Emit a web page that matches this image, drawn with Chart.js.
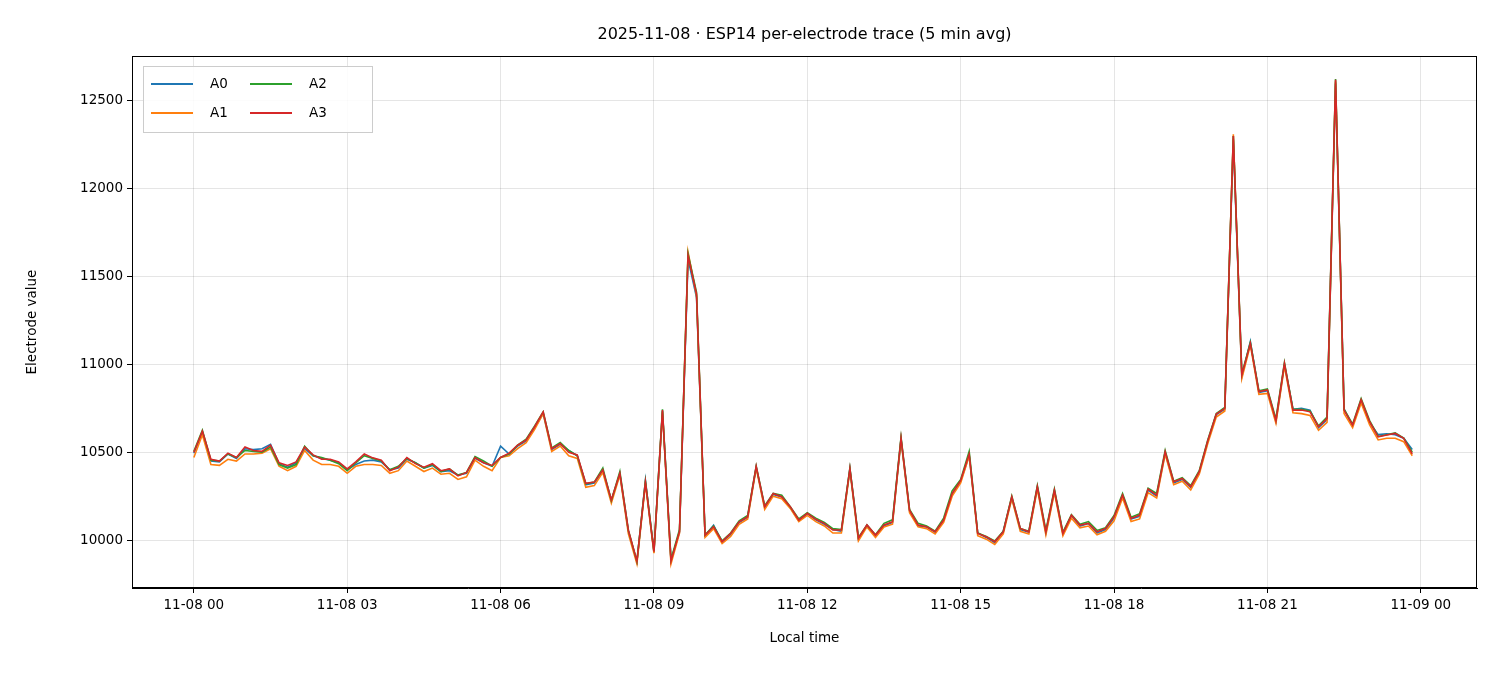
<!DOCTYPE html>
<html>
<head>
<meta charset="utf-8">
<script src="https://cdn.jsdelivr.net/npm/chart.js@4"></script>
<style>
  body { margin: 0; background: #fff; }
</style>
</head>
<body>
<canvas id="trace" width="1500" height="675"></canvas>
<script>
  // 10-minute readings, hours since 2025-11-08 00:00
  const hours = [];
  for (let i = 0; i < 144; i++) hours.push(i / 6);

  const tickHours = [0, 3, 6, 9, 12, 15, 18, 21, 24];
  const tickLabels = ['11-08 00', '11-08 03', '11-08 06', '11-08 09', '11-08 12', '11-08 15', '11-08 18', '11-08 21', '11-09 00'];
  const yTicks = [10000, 10500, 11000, 11500, 12000, 12500];

  const a0 = [10495,10615,10450,10445,10490,10465,10520,10515,10520,10545,10435,10415,10440,10520,10480,10465,10455,10440,10400,10430,10450,10455,10445,10400,10410,10460,10440,10410,10425,10390,10395,10370,10380,10465,10440,10420,
    10535,10490,10535,10565,10640,10720,10515,10545,10510,10480,10315,10325,10395,10225,10375,10050,9875,10340,9930,10735,9885,10045,11600,11380,
    10025,10085,9990,10030,10100,10130,10415,10185,10260,10245,10185,10110,10150,10115,10090,10060,10050,10405,10005,10085,10025,10080,10100,10575,10165,10080,10075,10045,10110,10260,
    10335,10480,10040,10015,9985,10050,10240,10060,10045,10300,10040,10280,10035,10140,10080,10095,10040,10060,10125,10250,10120,10135,10285,10250,10495,10325,10345,10300,10385,10560,
    10715,10745,12280,10930,11130,10840,10850,10675,11000,10745,10750,10740,10640,10685,12600,10745,10650,10790,10670,10600,10605,10600,10580,10515];
  const a1 = [10470,10600,10430,10425,10460,10450,10490,10490,10495,10520,10420,10395,10420,10510,10455,10430,10430,10420,10380,10420,10430,10430,10425,10380,10395,10450,10420,10390,10410,10375,10380,10345,10360,10455,10420,10395,
    10470,10480,10520,10555,10630,10720,10505,10535,10480,10465,10300,10310,10385,10210,10370,10035,9865,10320,9925,10730,9865,10040,11640,11390,
    10015,10065,9980,10020,10090,10120,10410,10175,10250,10235,10180,10105,10140,10105,10080,10040,10040,10395,9995,10075,10015,10075,10090,10570,10155,10075,10065,10035,10100,10250,
    10325,10480,10025,10005,9975,10035,10235,10050,10035,10290,10030,10270,10025,10125,10070,10080,10030,10050,10110,10240,10105,10120,10270,10240,10490,10315,10335,10285,10375,10550,
    10700,10735,12310,10920,11110,10830,10835,10665,10990,10725,10720,10710,10625,10670,12610,10720,10640,10780,10655,10570,10580,10580,10560,10480];
  const a2 = [10505,10625,10455,10450,10490,10470,10510,10505,10500,10530,10430,10410,10430,10535,10480,10470,10455,10435,10395,10440,10480,10465,10450,10400,10420,10465,10440,10410,10430,10390,10405,10370,10385,10475,10450,10420,
    10470,10490,10540,10575,10650,10730,10525,10555,10510,10480,10320,10330,10410,10225,10390,10055,9880,10335,9940,10745,9890,10060,11630,11410,
    10030,10080,9995,10040,10110,10140,10420,10195,10265,10255,10190,10120,10155,10125,10100,10065,10060,10410,10015,10085,10030,10095,10115,10585,10175,10095,10080,10050,10125,10280,
    10345,10505,10040,10020,9995,10050,10250,10065,10050,10310,10055,10290,10045,10145,10090,10105,10055,10070,10140,10265,10130,10150,10295,10265,10510,10335,10355,10310,10395,10570,
    10720,10755,12300,10945,11125,10850,10860,10690,11010,10745,10745,10735,10650,10700,12625,10745,10660,10805,10680,10590,10600,10610,10580,10500];
  const a3 = [10500,10620,10460,10450,10495,10470,10530,10510,10505,10540,10440,10425,10445,10530,10485,10460,10460,10445,10405,10445,10490,10468,10455,10395,10415,10470,10435,10415,10435,10395,10405,10365,10385,10470,10440,10425,
    10470,10495,10540,10570,10645,10730,10520,10550,10500,10485,10323,10330,10400,10228,10380,10056,9880,10330,9934,10740,9880,10050,11620,11400,
    10028,10076,9991,10038,10104,10133,10420,10190,10265,10247,10190,10114,10152,10118,10095,10057,10057,10408,10010,10086,10028,10086,10104,10580,10170,10086,10076,10048,10114,10266,
    10340,10490,10038,10019,9991,10047,10247,10066,10047,10304,10047,10285,10038,10142,10085,10095,10047,10066,10133,10256,10123,10142,10290,10256,10503,10332,10351,10304,10389,10565,
    10717,10750,12300,10940,11120,10845,10855,10680,11006,10740,10740,10730,10645,10693,12620,10740,10655,10799,10674,10588,10598,10607,10579,10490];

  const names = ['A0', 'A1', 'A2', 'A3'];
  const colors = ['#1f77b4', '#ff7f0e', '#2ca02c', '#d62728'];
  const series = [a0, a1, a2, a3];

  const FONT = '"DejaVu Sans", sans-serif';

  // title, axis titles, frame and the 2-column legend
  const decor = {
    id: 'decor',
    afterDraw(chart) {
      const c = chart.ctx, a = chart.chartArea;
      c.save();
      c.strokeStyle = '#000';
      c.lineWidth = 1;
      c.strokeRect(a.left + 0.5, a.top + 0.5, a.right - a.left - 1, a.bottom - a.top - 1);
      c.fillStyle = '#000';
      c.textAlign = 'center';
      c.textBaseline = 'middle';
      c.font = '16px ' + FONT;
      c.fillText('2025-11-08 · ESP14 per-electrode trace (5 min avg)', (a.left + a.right) / 2, 35);
      c.font = '13.5px ' + FONT;
      c.fillText('Local time', (a.left + a.right) / 2, 638);
      c.translate(32, (a.top + a.bottom) / 2);
      c.rotate(-Math.PI / 2);
      c.fillText('Electrode value', 0, 0);
      c.restore();

      c.save();
      c.fillStyle = 'rgba(255,255,255,0.85)';
      c.strokeStyle = '#ccc';
      c.lineWidth = 1;
      c.fillRect(143.5, 66.5, 229, 66);
      c.strokeRect(143.5, 66.5, 229, 66);
      c.font = '13.5px ' + FONT;
      c.textBaseline = 'middle';
      c.textAlign = 'left';
      chart.data.datasets.forEach((ds, i) => {
        const col = Math.floor(i / 2), row = i % 2;
        const x = 151 + col * 99, y = 84 + row * 29;
        c.strokeStyle = ds.borderColor;
        c.lineWidth = 2;
        c.beginPath();
        c.moveTo(x, y);
        c.lineTo(x + 42, y);
        c.stroke();
        c.fillStyle = '#000';
        c.fillText(ds.label, x + 59, y);
      });
      c.restore();
    }
  };

  new Chart(document.getElementById('trace'), {
    type: 'line',
    data: {
      datasets: series.map((s, i) => ({
        label: names[i],
        data: s.map((v, k) => ({ x: hours[k], y: v })),
        borderColor: colors[i],
        borderWidth: 1.6,
        pointRadius: 0,
        tension: 0,
        order: 3 - i
      }))
    },
    options: {
      responsive: false,
      animation: false,
      devicePixelRatio: 1,
      layout: { padding: { left: 0, right: 23, top: 56, bottom: 0 } },
      plugins: { legend: { display: false }, tooltip: { enabled: false } },
      scales: {
        x: {
          type: 'linear',
          min: -1.21,
          max: 25.1,
          afterBuildTicks: s => { s.ticks = tickHours.map(v => ({ value: v })); },
          afterFit: s => { s.height = 87; },
          ticks: {
            autoSkip: false,
            maxRotation: 0,
            color: '#000',
            font: { family: FONT, size: 13.5 },
            padding: 4,
            callback: (v, i) => tickLabels[i]
          },
          grid: { color: 'rgba(0,0,0,0.1)', tickColor: '#000', tickLength: 5 },
          border: { color: '#000' }
        },
        y: {
          min: 9727,
          max: 12756,
          afterBuildTicks: s => { s.ticks = yTicks.map(v => ({ value: v })); },
          afterFit: s => { s.width = 132; },
          ticks: {
            color: '#000',
            font: { family: FONT, size: 13.5 },
            padding: 4,
            callback: v => String(v)
          },
          grid: { color: 'rgba(0,0,0,0.1)', tickColor: '#000', tickLength: 5 },
          border: { color: '#000' }
        }
      }
    },
    plugins: [decor]
  });
</script>
</body>
</html>
